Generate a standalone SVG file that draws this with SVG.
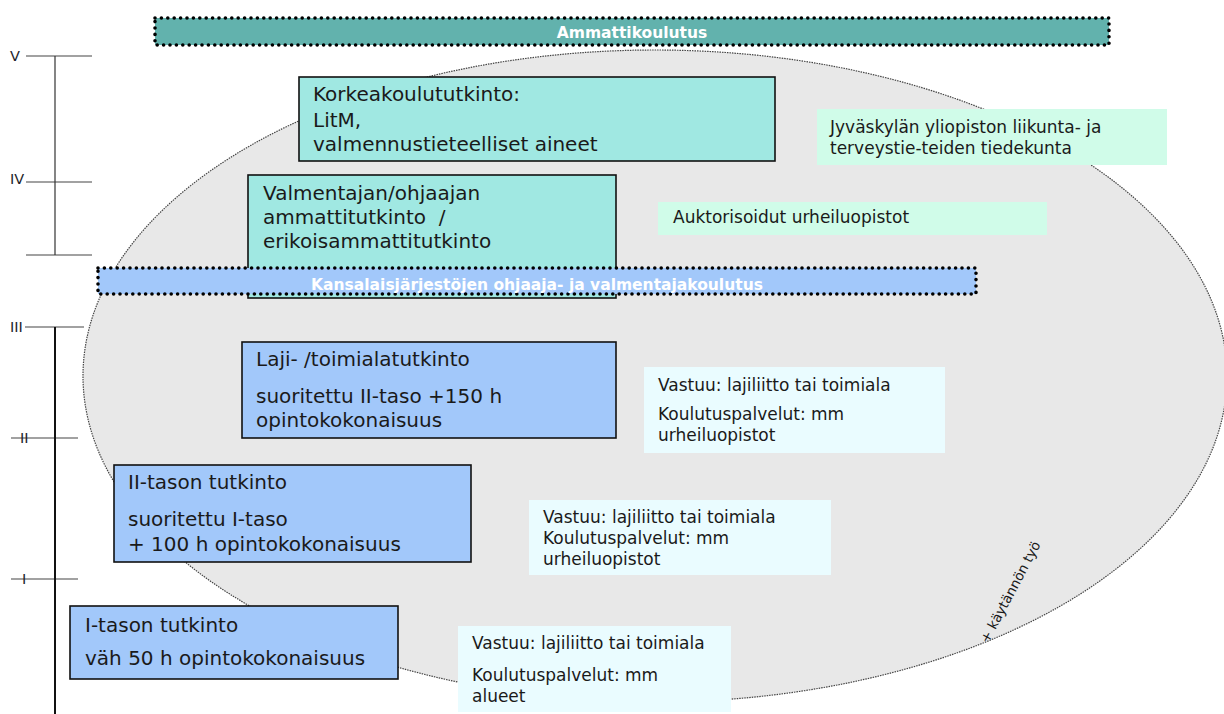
<svg xmlns="http://www.w3.org/2000/svg" width="1224" height="714" viewBox="0 0 1224 714">
<style>
text{font-family:'DejaVu Sans','Liberation Sans',sans-serif;fill:#1a1a1a}
.big{font-size:20px}
.sm{font-size:17px}
.num{font-size:14.5px;fill:#1e1e2a}
.bartitle{font-size:15.5px;font-weight:bold;fill:#ffffff}
.teal{fill:#a0e8e2;stroke:#111;stroke-width:1.6}
.blue{fill:#a2c8fa;stroke:#111;stroke-width:1.6}
.mint{fill:#d0fce9}
.cyan{fill:#eafcff}
.dots{stroke:#000;stroke-width:3.6;stroke-dasharray:0 6.4;stroke-linecap:round}
.tick{stroke:#444;stroke-width:1.1}
</style>
<rect width="1224" height="714" fill="#ffffff"/>
<g id="ellipse-area">
<ellipse cx="655" cy="376" rx="572" ry="326" fill="#e8e8e8" stroke="#444" stroke-width="1.2" stroke-dasharray="1.5 1"/>
<text x="0" y="0" font-size="13.5" transform="translate(988,644) rotate(-62)">+ käytännön työ</text>
</g>
<g id="scale">
<line class="tick" x1="26" y1="56" x2="92" y2="56"/>
<line class="tick" x1="26" y1="182" x2="92" y2="182"/>
<line class="tick" x1="26" y1="255" x2="92" y2="255"/>
<line x1="55" y1="56" x2="55" y2="255" stroke="#333" stroke-width="1.2"/>
<line class="tick" x1="25" y1="327" x2="84" y2="327"/>
<line class="tick" x1="11" y1="438" x2="78" y2="438"/>
<line class="tick" x1="11" y1="579" x2="78" y2="579"/>
<line x1="55" y1="327" x2="55" y2="714" stroke="#111" stroke-width="2"/>
<text class="num" x="10" y="61">V</text>
<text class="num" x="10" y="184">IV</text>
<text class="num" x="10" y="332">III</text>
<text class="num" x="20" y="443">II</text>
<text class="num" x="22" y="584">I</text>
</g>
<g id="ammattikoulutus">
<rect x="155" y="18" width="954" height="27" fill="#62b2ad"/>
<rect class="dots" x="155" y="18" width="954" height="27" fill="none"/>
<text class="bartitle" x="632" y="38" text-anchor="middle">Ammattikoulutus</text>
</g>
<g id="korkeakoulututkinto">
<rect class="teal" x="299" y="77" width="476" height="84"/>
<text class="big" x="313" y="101">Korkeakoulututkinto:</text>
<text class="big" x="313" y="127">LitM,</text>
<text class="big" x="313" y="151">valmennustieteelliset aineet</text>
</g>
<g id="jyvaskyla">
<rect class="mint" x="817" y="109" width="350" height="56"/>
<text class="sm" x="830" y="133">Jyväskylän yliopiston liikunta- ja</text>
<text class="sm" x="830" y="154">terveystie-teiden tiedekunta</text>
</g>
<g id="valmentajan">
<rect class="teal" x="248" y="175" width="368" height="123"/>
<text class="big" x="263" y="200">Valmentajan/ohjaajan</text>
<text class="big" x="263" y="224" xml:space="preserve">ammattitutkinto  /</text>
<text class="big" x="263" y="248">erikoisammattitutkinto</text>
</g>
<g id="auktorisoidut">
<rect class="mint" x="658" y="202" width="389" height="33"/>
<text class="sm" x="673" y="223">Auktorisoidut urheiluopistot</text>
</g>
<g id="kansalaisjarjestot">
<rect x="98" y="268" width="878" height="26" fill="#a2c8fa"/>
<rect class="dots" x="98" y="268" width="878" height="26" fill="none"/>
<text class="bartitle" x="537" y="290" text-anchor="middle">Kansalaisjärjestöjen ohjaaja- ja valmentajakoulutus</text>
</g>
<g id="laji">
<rect class="blue" x="242" y="342" width="374" height="96"/>
<text class="big" x="256" y="366">Laji- /toimialatutkinto</text>
<text class="big" x="256" y="403">suoritettu II-taso +150 h</text>
<text class="big" x="256" y="427">opintokokonaisuus</text>
</g>
<g id="vastuu-laji">
<rect class="cyan" x="644" y="367" width="301" height="86"/>
<text class="sm" x="658" y="391">Vastuu: lajiliitto tai toimiala</text>
<text class="sm" x="658" y="420">Koulutuspalvelut: mm</text>
<text class="sm" x="658" y="441">urheiluopistot</text>
</g>
<g id="ii-taso">
<rect class="blue" x="114" y="465" width="357" height="97"/>
<text class="big" x="128" y="489">II-tason tutkinto</text>
<text class="big" x="128" y="526">suoritettu I-taso</text>
<text class="big" x="128" y="551">+ 100 h opintokokonaisuus</text>
</g>
<g id="vastuu-ii">
<rect class="cyan" x="529" y="500" width="302" height="75"/>
<text class="sm" x="543" y="523">Vastuu: lajiliitto tai toimiala</text>
<text class="sm" x="543" y="544">Koulutuspalvelut: mm</text>
<text class="sm" x="543" y="565">urheiluopistot</text>
</g>
<g id="i-taso">
<rect class="blue" x="70" y="606" width="328" height="73"/>
<text class="big" x="85" y="632">I-tason tutkinto</text>
<text class="big" x="85" y="665">väh 50 h opintokokonaisuus</text>
</g>
<g id="vastuu-i">
<rect class="cyan" x="458" y="626" width="273" height="86"/>
<text class="sm" x="472" y="649">Vastuu: lajiliitto tai toimiala</text>
<text class="sm" x="472" y="681">Koulutuspalvelut: mm</text>
<text class="sm" x="472" y="702">alueet</text>
</g>
</svg>
